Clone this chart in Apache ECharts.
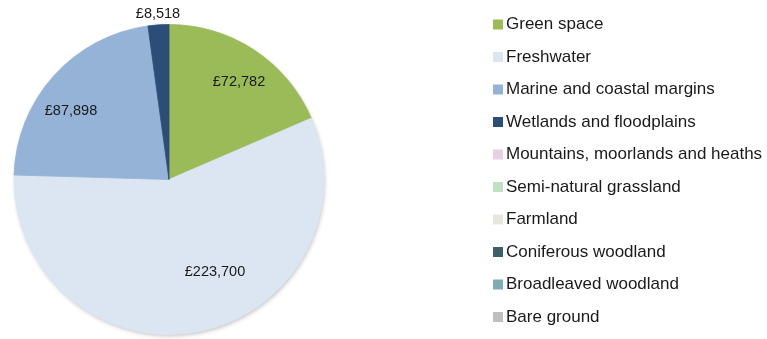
<!DOCTYPE html>
<html>
<head>
<meta charset="utf-8">
<style>
  html, body { margin: 0; padding: 0; background: #ffffff; }
  #chart { width: 767px; height: 339px; }
</style>
<script src="https://cdn.jsdelivr.net/npm/echarts@6/dist/echarts.min.js"></script>
</head>
<body>
<div id="chart"></div>
<script>
// Habitat categories and their values (£)
const categories = [
  'Green space',
  'Freshwater',
  'Marine and coastal margins',
  'Wetlands and floodplains',
  'Mountains, moorlands and heaths',
  'Semi-natural grassland',
  'Farmland',
  'Coniferous woodland',
  'Broadleaved woodland',
  'Bare ground'
];
const values = [72782, 223700, 87898, 8518, 0, 0, 0, 0, 0, 0];
const colors = [
  '#9bbb59', '#dce6f2', '#95b3d7', '#2c4d75', '#e6d0e4',
  '#c3e0c5', '#e8e6da', '#3d5f68', '#7fabb3', '#bfbfbf'
];

// Where each value label sits (pixel centres in the chart)
const labelSpots = {
  'Green space': [239, 82],
  'Freshwater': [215, 272],
  'Marine and coastal margins': [71, 111],
  'Wetlands and floodplains': [158, 14]
};

const fmt = v => '£' + v.toLocaleString('en-GB');
const pieCenter = [169, 179.5];
const pieRadius = 155;

// Empty categories stay in the legend but draw nothing in the pie.
// A same-coloured hairline border closes the anti-aliasing seams between slices.
const data = categories.map((name, i) => {
  const shown = values[i] > 0;
  return {
    name: name,
    value: values[i],
    itemStyle: shown
      ? { color: colors[i], borderColor: colors[i], borderWidth: 0.8 }
      : { color: colors[i], opacity: 0, borderWidth: 0 },
    label: { show: shown }
  };
});

const chart = echarts.init(document.getElementById('chart'), null, { renderer: 'canvas' });
chart.setOption({
  animation: false,
  legend: {
    orient: 'vertical',
    left: 488,
    top: 10.5,
    padding: [5, 0, 5, 5],
    itemWidth: 10,
    itemHeight: 10,
    itemGap: 14.5,
    icon: 'rect',
    textStyle: {
      fontFamily: 'Liberation Sans, Arial, sans-serif',
      fontSize: 17,
      lineHeight: 18,
      color: '#1a1a1a',
      padding: [0, 0, 0, -2]
    },
    data: categories.map((name, i) => ({
      name: name,
      itemStyle: { color: colors[i], opacity: 1, borderWidth: 0 }
    }))
  },
  series: [
    {
      // soft drop shadow under the whole disc
      type: 'pie',
      name: 'backdrop',
      silent: true,
      z: 1,
      center: pieCenter,
      radius: [0, pieRadius - 0.5],
      label: { show: false },
      labelLine: { show: false },
      emphasis: { disabled: true },
      itemStyle: {
        color: '#dce6f2',
        shadowBlur: 4,
        shadowColor: 'rgba(0,0,0,0.25)',
        shadowOffsetX: 1,
        shadowOffsetY: 2
      },
      data: [{ name: '', value: 1 }]
    },
    {
      type: 'pie',
      name: 'Value',
      z: 2,
      center: pieCenter,
      radius: [0, pieRadius],
      startAngle: 90,
      clockwise: true,
      avoidLabelOverlap: false,
      label: {
        position: 'inside',
        formatter: p => fmt(p.value),
        fontFamily: 'Liberation Sans, Arial, sans-serif',
        fontSize: 14.5,
        color: '#1a1a1a'
      },
      labelLine: { show: false },
      labelLayout: function (params) {
        const name = categories[params.dataIndex];
        const spot = labelSpots[name];
        if (!spot) return {};
        return { x: spot[0], y: spot[1], align: 'center', verticalAlign: 'middle' };
      },
      emphasis: { disabled: true },
      data: data
    }
  ]
});
</script>
</body>
</html>
